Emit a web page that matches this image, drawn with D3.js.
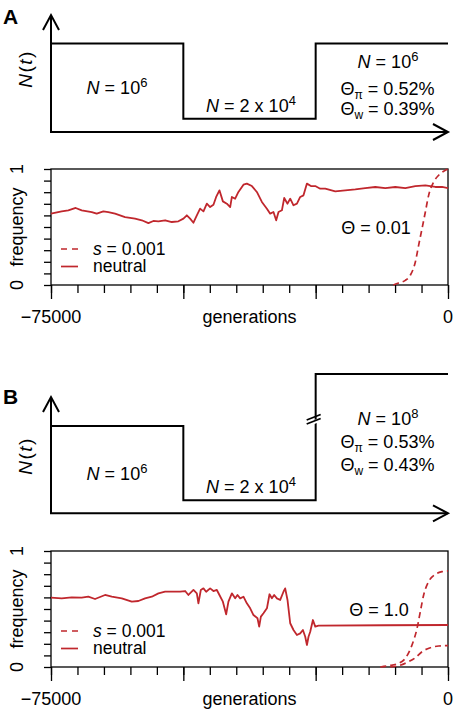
<!DOCTYPE html>
<html><head><meta charset="utf-8">
<script src="https://cdn.jsdelivr.net/npm/d3@7"></script>
<style>
body{margin:0;background:#fff}
svg{display:block}
text{font-family:"Liberation Sans",Arial,Helvetica,sans-serif;fill:#000}
</style>
</head><body>
<svg id="chart" width="458" height="714"></svg>
<script>
// ---------------- DATA ----------------
const epochStart = [-75000, -50000, -25000];
const epochEnd = 0;
const popA = [1e6, 2e4, 1e6];
const popB = [1e6, 2e4, 1e8];
const xMajorTicks = [-75000, -50000, -25000, 0];
const xMinorTicks = [-75000,-70000,-65000,-60000,-55000,-50000,-45000,-40000,-35000,-30000,-25000,-20000,-15000,-10000,-5000,0];
const yTicks = [0,0.1,0.2,0.3,0.4,0.5,0.6,0.7,0.8,0.9,1];
const xTickLabels = [{v:-75000, t:"\u221275000"}, {v:0, t:"0"}];
const yTickLabels = [{v:0, t:"0"}, {v:1, t:"1"}];
const legendLabels = ["s", "neutral"];

// Panel A: neutral trajectory (generation, frequency)
const neutralA_gen = [-75000,-72980,-71730,-70330,-69200,-67300,-66360,-65110,-64170,-62900,-61010,-59120,-57850,-56600,-55660,-54710,-53440,-52180,-50930,-49980,-49340,-48720,-48090,-47450,-46830,-46200,-45560,-44940,-44310,-43800,-43180,-42530,-41780,-41150,-40830,-40210,-39590,-38640,-38000,-37050,-36110,-35160,-34210,-33590,-32970,-32460,-32020,-31380,-30940,-30320,-29810,-29190,-28540,-27920,-27300,-26650,-25900,-25080,-24140,-23190,-21300,-19410,-17520,-15630,-13740,-11850,-9960,-8060,-6170,-4280,-2390,-1130,0];
const neutralA_freq = [0.615,0.635,0.644,0.664,0.644,0.629,0.615,0.635,0.629,0.615,0.586,0.572,0.558,0.534,0.552,0.549,0.558,0.543,0.549,0.572,0.601,0.572,0.537,0.601,0.658,0.635,0.701,0.672,0.692,0.759,0.816,0.721,0.701,0.672,0.759,0.744,0.802,0.865,0.874,0.853,0.802,0.716,0.658,0.615,0.629,0.558,0.629,0.644,0.750,0.701,0.744,0.687,0.701,0.759,0.773,0.874,0.853,0.853,0.830,0.830,0.808,0.816,0.825,0.836,0.845,0.836,0.845,0.836,0.853,0.859,0.845,0.845,0.836];
// Panel A: selected (s = 0.001)
const selA_gen = [-10340,-9330,-8060,-7120,-6170,-5550,-4910,-4280,-3660,-2720,-1770,-500,0];
const selA_freq = [0.0,0.017,0.04,0.084,0.198,0.342,0.485,0.629,0.773,0.888,0.946,0.989,1.0];

// Panel B: neutral trajectory
const neutralB_gen = [-75000,-72980,-71090,-69200,-67950,-66680,-64790,-63520,-61630,-59740,-58490,-57230,-55960,-54710,-53440,-51550,-50610,-49660,-49040,-48090,-47450,-47150,-46700,-46200,-45690,-44940,-44310,-43670,-43180,-42530,-41910,-41480,-40830,-40210,-39770,-39260,-38640,-38000,-37370,-36750,-35990,-35670,-35350,-34860,-34210,-33720,-33270,-32840,-32320,-31700,-31080,-30760,-30320,-29810,-29190,-28540,-27920,-27410,-26970,-26650,-26350,-26030,-25520,-25080,-24460,-12000,0];
const neutralB_freq = [0.598,0.592,0.601,0.598,0.606,0.586,0.621,0.606,0.592,0.563,0.569,0.592,0.606,0.635,0.649,0.649,0.649,0.655,0.621,0.664,0.635,0.549,0.664,0.678,0.649,0.678,0.655,0.664,0.621,0.563,0.454,0.563,0.635,0.592,0.621,0.592,0.606,0.549,0.506,0.448,0.420,0.348,0.434,0.463,0.506,0.627,0.592,0.621,0.592,0.578,0.649,0.678,0.578,0.377,0.319,0.276,0.290,0.319,0.261,0.190,0.261,0.304,0.405,0.348,0.356,0.360,0.362];
// Panel B: selected trajectories
const selB1_gen = [-12790,-11220,-9330,-8060,-6800,-5850,-5230,-4600,-3660,-2390,-1130,0];
const selB1_freq = [0.0,0.011,0.032,0.075,0.190,0.333,0.477,0.621,0.736,0.799,0.822,0.828];
const selB2_gen = [-10900,-9330,-7440,-6170,-4910,-3340,-1770,0];
const selB2_freq = [0.0,0.011,0.046,0.080,0.132,0.166,0.181,0.184];

const RED = "#c0272d";

// ---------------- DRAWING ----------------
const svg = d3.select("#chart");
const x = d3.scaleLinear().domain([-75000, 0]).range([51, 448]);

function mathText(g, px, py, parts, opts={}) {
  const t = g.append("text").attr("x", px).attr("y", py)
    .attr("text-anchor", opts.anchor || "middle")
    .attr("font-size", opts.size || 18);
  let shift = 0;
  parts.forEach(p => {
    const s = t.append("tspan").text(p.t);
    let target = 0;
    if (p.sup) { target = -7; s.attr("font-size", 13); }
    if (p.sub) { target = 4; s.attr("font-size", 12); }
    if (p.i) s.attr("font-style", "italic");
    if (target !== shift) { s.attr("dy", target - shift); shift = target; }
  });
  return t;
}

function drawDemography(cfg) {
  const g = svg.append("g");
  const y = cfg.y;
  const axisY = y.range()[0];
  g.append("path").attr("d", d3.line()([[x(-75000), cfg.arrowTop], [x(-75000), axisY], [x(0), axisY]]))
    .attr("fill", "none").attr("stroke", "#000").attr("stroke-width", 2);
  g.append("path").attr("d", d3.line()([[x(-75000)-8, cfg.arrowTop+15], [x(-75000), cfg.arrowTop], [x(-75000)+8, cfg.arrowTop+15]]))
    .attr("fill", "none").attr("stroke", "#000").attr("stroke-width", 2);
  g.append("path").attr("d", d3.line()([[x(0)-15, axisY-8], [x(0), axisY], [x(0)-15, axisY+8]]))
    .attr("fill", "none").attr("stroke", "#000").attr("stroke-width", 2);
  const pts = epochStart.map((s, i) => [s, cfg.pop[i]]);
  pts.push([epochEnd, cfg.pop[cfg.pop.length-1]]);
  const line = d3.line().x(d => x(d[0])).y(d => y(d[1])).curve(d3.curveStepAfter);
  g.append("path").attr("d", line(pts)).attr("fill", "none").attr("stroke", "#000").attr("stroke-width", 2);
  if (cfg.breakMark) {
    const bx = x(epochStart[2]) - 2, by = cfg.breakY;
    g.append("path").attr("d", `M${bx-7},${by+4} L${bx+7},${by-1.5} L${bx+7},${by+2.5} L${bx-7},${by+8}Z`)
      .attr("fill", "#fff");
    [0, 4].forEach(o => g.append("path").attr("d", d3.line()([[bx-7, by+o+1], [bx+7, by+o-4.5]]))
      .attr("stroke", "#000").attr("stroke-width", 1.8));
  }
  const lab = g.append("text").attr("transform", `translate(32,${cfg.labelY}) rotate(-90)`)
    .attr("text-anchor", "middle").attr("font-size", 19).attr("letter-spacing", 1.5);
  lab.append("tspan").attr("font-style", "italic").text("N");
  lab.append("tspan").text("(");
  lab.append("tspan").attr("font-style", "italic").text("t");
  lab.append("tspan").text(")");
  g.append("text").attr("x", 3).attr("y", cfg.letterY).attr("font-size", 21).attr("font-weight", "bold").text(cfg.letter);
  cfg.texts.forEach(tt => mathText(g, tt.x, tt.y, tt.parts));
}

function drawFreq(cfg) {
  const g = svg.append("g");
  const y = d3.scaleLinear().domain([0, 1]).range([cfg.bottom, cfg.top]);
  g.append("rect").attr("x", x(-75000)).attr("y", y(1)).attr("width", x(0) - x(-75000)).attr("height", y(0) - y(1))
    .attr("fill", "none").attr("stroke", "#000").attr("stroke-width", 1.3);
  const ax = g.append("g").attr("transform", `translate(0,${y(0)})`);
  ax.call(d3.axisBottom(x).tickValues(xMinorTicks).tickSize(8).tickFormat(""));
  const ax2 = g.append("g").attr("transform", `translate(0,${y(0)})`);
  ax2.call(d3.axisBottom(x).tickValues(xMajorTicks).tickSize(14).tickFormat(""));
  const ay = g.append("g").attr("transform", `translate(${x(-75000)},0)`);
  ay.call(d3.axisLeft(y).tickValues(yTicks).tickSize(7).tickFormat(""));
  [ax, ax2, ay].forEach(a => { a.select(".domain").remove(); a.selectAll("line").attr("stroke", "#000").attr("stroke-width", 1.3); });
  xTickLabels.forEach(d => g.append("text").attr("x", x(d.v)).attr("y", y(0) + 38).attr("text-anchor", "middle").attr("font-size", 18).text(d.t));
  g.append("text").attr("x", (x(-75000) + x(0)) / 2).attr("y", y(0) + 38).attr("text-anchor", "middle").attr("font-size", 18).text("generations");
  yTickLabels.forEach(d => g.append("text").attr("transform", `translate(23,${y(d.v)}) rotate(-90)`).attr("text-anchor", "middle").attr("font-size", 18).text(d.t));
  g.append("text").attr("transform", `translate(23,${(y(0) + y(1)) / 2}) rotate(-90)`).attr("text-anchor", "middle").attr("font-size", 18).text("frequency");
  const line = d3.line().x(d => x(d[0])).y(d => y(d[1]));
  const smooth = d3.line().x(d => x(d[0])).y(d => y(d[1])).curve(d3.curveMonotoneX);
  g.append("path").attr("d", line(d3.zip(cfg.neutral[0], cfg.neutral[1])))
    .attr("fill", "none").attr("stroke", RED).attr("stroke-width", 1.8).attr("stroke-linejoin", "round");
  cfg.sel.forEach(s => g.append("path").attr("d", smooth(d3.zip(s[0], s[1])))
    .attr("fill", "none").attr("stroke", RED).attr("stroke-width", 1.7).attr("stroke-dasharray", "6,4"));
  const ly1 = y(0) - 36, ly2 = y(0) - 18.5;
  g.append("line").attr("x1", 61).attr("x2", 78).attr("y1", ly1).attr("y2", ly1).attr("stroke", RED).attr("stroke-width", 1.7).attr("stroke-dasharray", "6,5");
  g.append("line").attr("x1", 61).attr("x2", 78).attr("y1", ly2).attr("y2", ly2).attr("stroke", RED).attr("stroke-width", 1.7);
  mathText(g, 93, ly1 + 6, [{t: legendLabels[0], i: 1}, {t: " = 0.001"}], {anchor: "start", size: 17.5});
  g.append("text").attr("x", 93).attr("y", ly2 + 5.5).attr("font-size", 17.5).text(legendLabels[1]);
  mathText(g, cfg.thetaX, y(0) - 51.5, [{t: "\u0398 = " + cfg.theta}]);
}

drawDemography({
  y: d3.scaleLog().domain([1e4, 1e6]).range([132, 43.5]),
  pop: popA, arrowTop: 15, labelY: 69, letter: "A", letterY: 24,
  texts: [
    {x: 117, y: 93.5, parts: [{t: "N", i: 1}, {t: " = 10"}, {t: "6", sup: 1}]},
    {x: 251, y: 111.7, parts: [{t: "N", i: 1}, {t: " = 2 x 10"}, {t: "4", sup: 1}]},
    {x: 388, y: 68, parts: [{t: "N", i: 1}, {t: " = 10"}, {t: "6", sup: 1}]},
    {x: 387.5, y: 94.5, parts: [{t: "\u0398"}, {t: "\u03c0", sub: 1}, {t: " = 0.52%"}]},
    {x: 387.5, y: 114.5, parts: [{t: "\u0398"}, {t: "w", sub: 1}, {t: " = 0.39%"}]}
  ]
});
drawFreq({top: 169, bottom: 285, neutral: [neutralA_gen, neutralA_freq], sel: [[selA_gen, selA_freq]], theta: "0.01", thetaX: 376});

drawDemography({
  y: d3.scaleLog().domain([1e4, 1e6, 1e8]).range([513.3, 426, 374]),
  pop: popB, arrowTop: 397, labelY: 456, letter: "B", letterY: 404, breakMark: true, breakY: 419,
  texts: [
    {x: 117, y: 480, parts: [{t: "N", i: 1}, {t: " = 10"}, {t: "6", sup: 1}]},
    {x: 251, y: 493.3, parts: [{t: "N", i: 1}, {t: " = 2 x 10"}, {t: "4", sup: 1}]},
    {x: 388, y: 425, parts: [{t: "N", i: 1}, {t: " = 10"}, {t: "8", sup: 1}]},
    {x: 387.5, y: 448, parts: [{t: "\u0398"}, {t: "\u03c0", sub: 1}, {t: " = 0.53%"}]},
    {x: 387.5, y: 470.5, parts: [{t: "\u0398"}, {t: "w", sub: 1}, {t: " = 0.43%"}]}
  ]
});
drawFreq({top: 551, bottom: 667, neutral: [neutralB_gen, neutralB_freq], sel: [[selB1_gen, selB1_freq], [selB2_gen, selB2_freq]], theta: "1.0", thetaX: 379});
</script>
</body></html>
